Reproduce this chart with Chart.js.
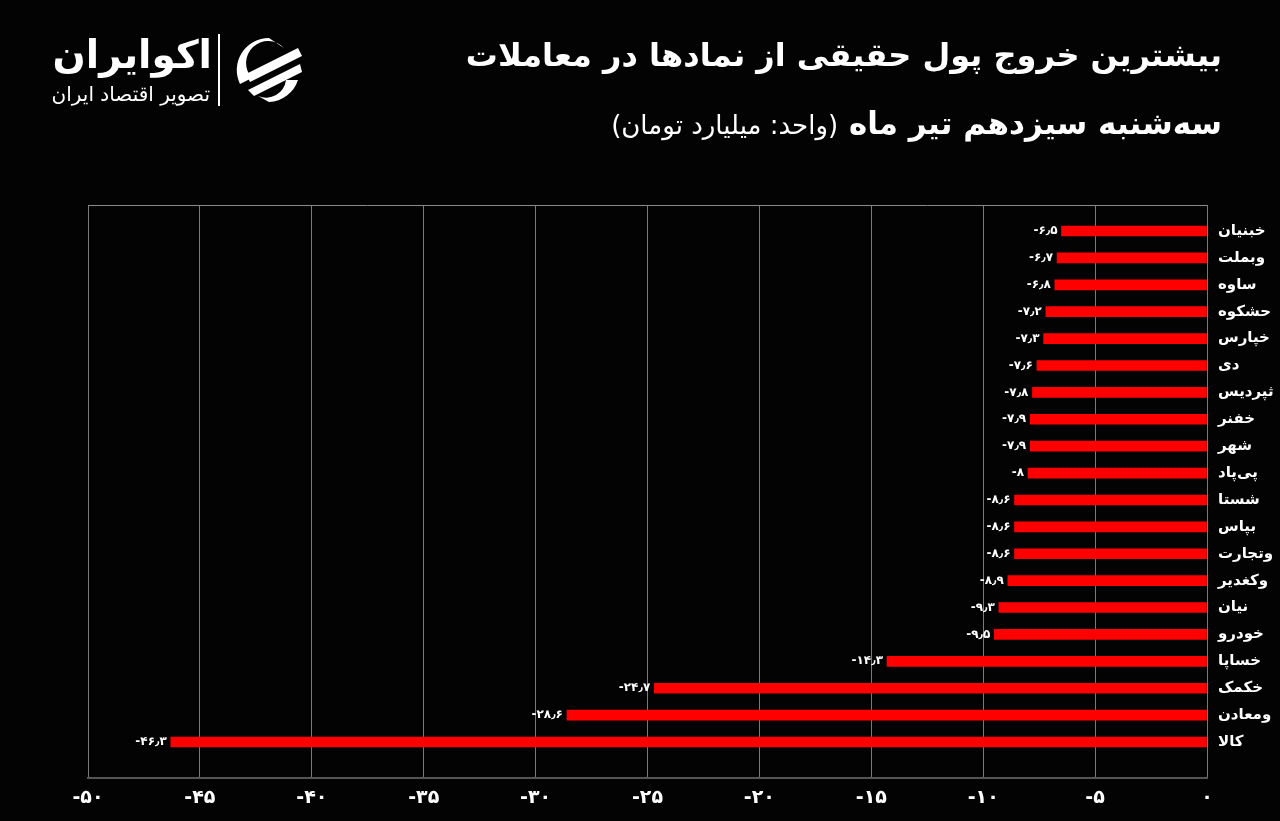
<!DOCTYPE html>
<html lang="fa">
<head>
<meta charset="utf-8">
<script src="https://cdn.jsdelivr.net/npm/chart.js@4.4.1/dist/chart.umd.min.js"></script>
<style>
  html, body { margin:0; padding:0; background:#030303; }
  body { width:1280px; height:821px; position:relative; overflow:hidden; font-family:"DejaVu Sans", sans-serif; color:#fff; }
  #c { position:absolute; left:0; top:0; }
  .title1 { position:absolute; right:58px; top:36px; font-size:32px; font-weight:bold; direction:rtl; white-space:nowrap; }
  .title2 { position:absolute; right:58px; top:105px; font-size:31px; font-weight:bold; direction:rtl; white-space:nowrap; }
  .title2 span { font-size:26px; font-weight:normal; }
  .logo { position:absolute; left:50px; top:34px; width:260px; height:75px; }
  .logo .name { position:absolute; left:0; top:-2px; width:162px; text-align:right; font-size:39px; font-weight:bold; direction:rtl; }
  .logo .sub { position:absolute; left:0; top:48px; width:160px; text-align:right; font-size:20px; direction:rtl; }
  .logo .sep { position:absolute; left:168px; top:0; width:2px; height:72px; background:#fff; }
  .logo svg { position:absolute; left:182px; top:0; }
</style>
</head>
<body>
<canvas id="c" width="1280" height="821"></canvas>
<div class="title1">بیشترین خروج پول حقیقی از نمادها در معاملات</div>
<div class="title2">سه‌شنبه سیزدهم تیر ماه <span>(واحد: میلیارد تومان)</span></div>
<div class="logo">
  <div class="name">اکوایران</div>
  <div class="sub">تصویر اقتصاد ایران</div>
  <div class="sep"></div>
  <svg width="74" height="72" viewBox="0 0 74 72">
    <path d="M37 4 A32 32 0 0 0 8 50 L20 44 A20 20 0 0 1 52 14 Z" fill="#fff"/>
    <path d="M66 14 L14 40 L18 48 L70 22 Z" fill="#fff"/>
    <path d="M68 30 L16 56 L22 62 L70 38 Z" fill="#fff"/>
    <path d="M37 68 A32 32 0 0 0 66 46 L54 46 A20 20 0 0 1 26 62 Z" fill="#fff"/>
  </svg>
</div>
<script>
const categories = ["خبنیان","وبملت","ساوه","حشکوه","خپارس","دی","ثپردیس","خفنر","شهر","پی‌پاد","شستا","بپاس","وتجارت","وکغدیر","نیان","خودرو","خساپا","خکمک","ومعادن","کالا"];
const values = [-6.5,-6.7,-6.8,-7.2,-7.3,-7.6,-7.8,-7.9,-7.9,-8,-8.6,-8.6,-8.6,-8.9,-9.3,-9.5,-14.3,-24.7,-28.6,-46.3];
const xTicks = [-50,-45,-40,-35,-30,-25,-20,-15,-10,-5,0];

const FA = "۰۱۲۳۴۵۶۷۸۹";
function toFa(n){
  return String(n).replace('.', '٫').replace(/\d/g, d => FA[+d]);
}

const FONT = '"DejaVu Sans", sans-serif';

const valueLabels = {
  id:'valueLabels',
  afterDatasetsDraw(chart){
    const ctx = chart.ctx;
    const meta = chart.getDatasetMeta(0);
    ctx.save();
    ctx.fillStyle = '#ffffff';
    ctx.font = 'bold 12px ' + FONT;
    ctx.textAlign = 'right';
    ctx.textBaseline = 'middle';
    meta.data.forEach((el, i) => {
      ctx.fillText(toFa(values[i]), el.x - 4, el.y);
    });
    ctx.restore();
  }
};

const topBorder = {
  id:'topBorder',
  afterDraw(chart){
    const {ctx, chartArea} = chart;
    ctx.save();
    ctx.strokeStyle = '#8a8a8a';
    ctx.lineWidth = 1;
    ctx.beginPath();
    ctx.moveTo(chartArea.left, chartArea.top + 0.5);
    ctx.lineTo(chartArea.right, chartArea.top + 0.5);
    ctx.stroke();
    ctx.restore();
  }
};

new Chart(document.getElementById('c'), {
  type:'bar',
  data:{
    datasets:[{
      data: values.map((v,i)=>({x:v, y:i})),
      backgroundColor:'#ff0000',
      borderWidth:0,
      barThickness:10
    }]
  },
  options:{
    indexAxis:'y',
    responsive:false,
    animation:false,
    layout:{ padding:{ left:88, top:205, right:0, bottom:0 } },
    plugins:{ legend:{display:false}, tooltip:{enabled:false} },
    scales:{
      x:{
        type:'linear',
        min:-50, max:0,
        afterBuildTicks(scale){ scale.ticks = xTicks.map(v=>({value:v})); },
        afterFit(scale){ scale.height = 43; },
        grid:{ color:'#7a7a7a', lineWidth:1, drawTicks:false },
        border:{ color:'#555555', width:2 },
        ticks:{
          color:'#ffffff',
          padding:9,
          font:{ family:FONT, size:19, weight:'bold' },
          callback:(v)=>toFa(v)
        }
      },
      y:{
        type:'linear',
        position:'right',
        reverse:true,
        offset:false,
        min:-0.967, max:20.338,
        afterBuildTicks(scale){ scale.ticks = categories.map((c,i)=>({value:i})); },
        afterFit(scale){ scale.width = 73; },
        grid:{ display:false, drawTicks:false, offset:false },
        border:{ display:false },
        ticks:{
          color:'#ffffff',
          padding:11,
          autoSkip:false,
          font:{ family:FONT, size:15, weight:'bold' },
          callback:(v)=>categories[v] ?? ''
        }
      }
    }
  },
  plugins:[valueLabels, topBorder]
});
</script>
</body>
</html>
